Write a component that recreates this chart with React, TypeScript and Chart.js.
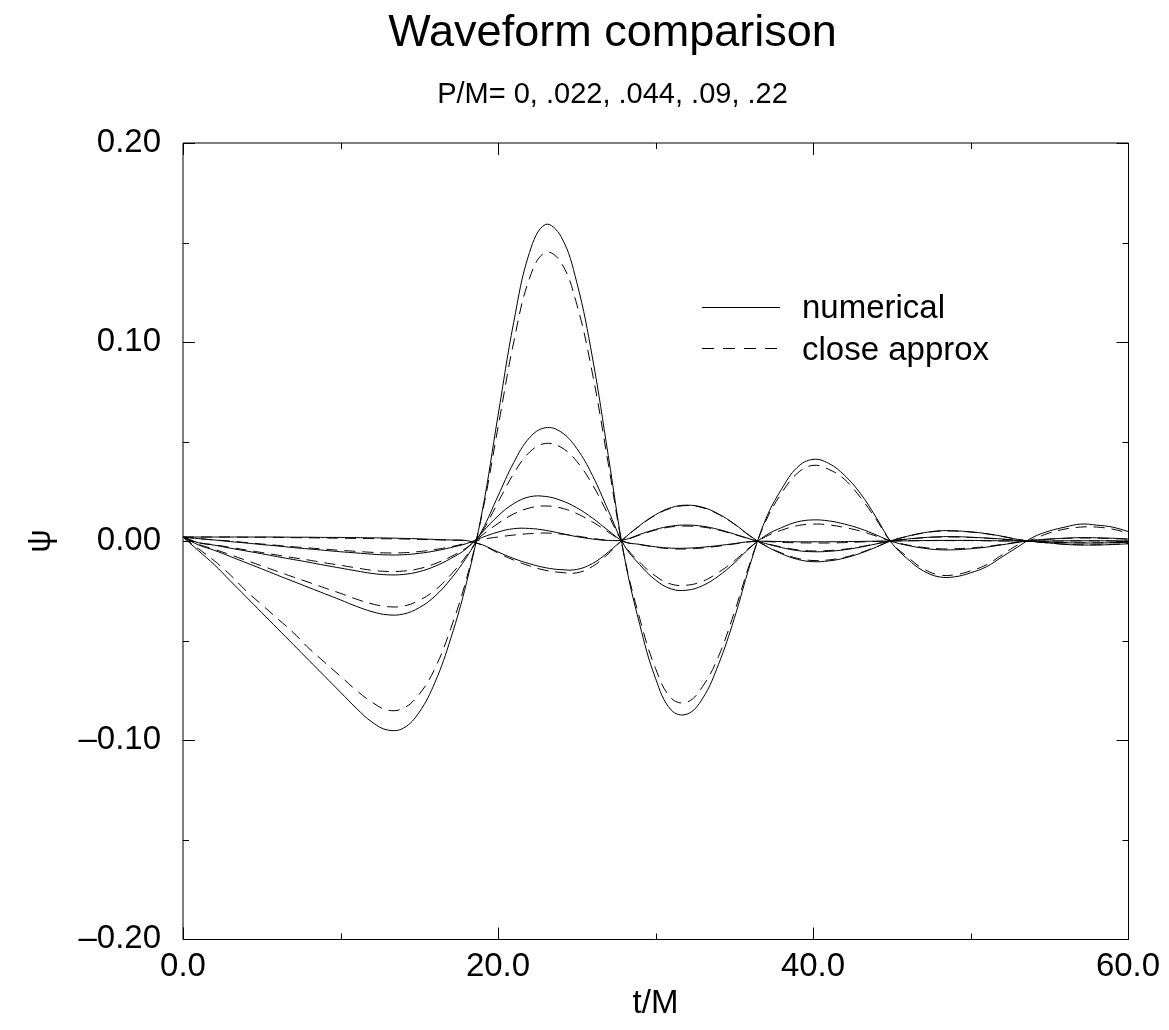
import React, { useEffect, useRef } from "react";
import { Chart, registerables } from "chart.js";

Chart.register(...registerables);

// ---------- data ----------
const chartTitle = "Waveform comparison";
const chartSubtitle = "P/M= 0, .022, .044, .09, .22";
const xAxisTitle = "t/M";
const yAxisTitle = "ψ";
const legendLabels = ["numerical", "close approx"];

const tValues = [
  0, 1, 2, 3, 4, 5, 6, 7, 8, 9, 10, 11, 12, 13, 14, 15, 16, 17, 18, 19, 20,
  21, 22, 23, 24, 25, 26, 27, 28, 29, 30, 31, 32, 33, 34, 35, 36, 37, 38, 39, 40,
  41, 42, 43, 44, 45, 46, 47, 48, 49, 50, 51, 52, 53, 54, 55, 56, 57, 58, 59, 60,
];

// P/M = .22
const numP22 = [
  0.002, -0.005, -0.012, -0.02, -0.028, -0.036, -0.044, -0.052, -0.06, -0.068, -0.076, -0.084, -0.091, -0.095, -0.094, -0.086, -0.071, -0.049, -0.021,
  0.015, 0.063, 0.11, 0.145, 0.159, 0.153, 0.13, 0.092, 0.043,
  -0.007, -0.042, -0.069, -0.085, -0.087, -0.079, -0.062, -0.039, -0.012,
  0.011, 0.026, 0.037, 0.041, 0.039, 0.033, 0.024, 0.012,
  -0.001, -0.009, -0.015, -0.018, -0.018, -0.016, -0.013, -0.008, -0.003,
  0.002, 0.005, 0.007, 0.0085, 0.008, 0.007, 0.0048,
];
const approxP22 = [
  0.002, -0.004, -0.01, -0.017, -0.025, -0.032, -0.039, -0.046, -0.054, -0.061, -0.068, -0.075, -0.081, -0.085, -0.084, -0.077, -0.064, -0.044, -0.019,
  0.014, 0.057, 0.1, 0.132, 0.145, 0.14, 0.119, 0.084, 0.039,
  -0.007, -0.039, -0.064, -0.079, -0.081, -0.073, -0.058, -0.036, -0.011,
  0.01, 0.024, 0.034, 0.038, 0.036, 0.031, 0.022, 0.011,
  -0.001, -0.008, -0.014, -0.017, -0.017, -0.015, -0.012, -0.007, -0.002,
  0.001, 0.004, 0.006, 0.007, 0.007, 0.006, 0.004,
];

// P/M = .09
const numP09 = [
  0.002, -0.002, -0.0047, -0.0078, -0.0109, -0.014, -0.0172, -0.0203, -0.0234, -0.0265, -0.0296, -0.0328, -0.0355, -0.0371, -0.0367, -0.0335, -0.0277, -0.0191, -0.0082,
  0.0054, 0.0226, 0.0394, 0.0519, 0.0569, 0.0548, 0.0465, 0.0329, 0.0154,
  -0.002, -0.0119, -0.0196, -0.0241, -0.0247, -0.0224, -0.0176, -0.0111, -0.0034,
  0.0028, 0.0067, 0.0096, 0.0106, 0.0101, 0.0085, 0.0062, 0.0031,
  -0.0002, -0.0022, -0.0036, -0.0044, -0.0044, -0.0039, -0.0031, -0.0019, -0.0007,
  0.0004, 0.001, 0.0014, 0.0017, 0.0016, 0.0014, 0.001,
];
const approxP09 = [
  0.002, -0.0017, -0.0042, -0.0069, -0.0097, -0.0125, -0.0153, -0.0181, -0.0208, -0.0236, -0.0263, -0.0292, -0.0316, -0.033, -0.0327, -0.0298, -0.0247, -0.017, -0.0073,
  0.0046, 0.0194, 0.0339, 0.0446, 0.049, 0.0471, 0.04, 0.0283, 0.0132,
  -0.0018, -0.0107, -0.0176, -0.0217, -0.0222, -0.0202, -0.0158, -0.01, -0.0031,
  0.0022, 0.0054, 0.0077, 0.0085, 0.0081, 0.0068, 0.005, 0.0025,
  -0.0002, -0.002, -0.0032, -0.0039, -0.0039, -0.0035, -0.0028, -0.0017, -0.0006,
  0.0003, 0.0009, 0.0013, 0.0015, 0.0014, 0.0012, 0.0009,
];

// P/M = .044
const numP044 = [
  0.002, -0.0009, -0.0021, -0.0036, -0.005, -0.0064, -0.0079, -0.0093, -0.0107, -0.0122, -0.0136, -0.015, -0.0163, -0.017, -0.0168, -0.0154, -0.0127, -0.0088, -0.0038,
  0.0044, 0.0126, 0.0188, 0.0222, 0.0224, 0.0204, 0.0167, 0.0115, 0.0053,
  -0.0003, -0.0017, -0.0029, -0.0036, -0.0036, -0.0031, -0.0023, -0.0013, -0.0003,
  -0.0001, -0.0003, -0.0004, -0.0004, -0.0004, -0.0003, -0.0002, -0.0001,
  0.0, 0.0001, 0.0002, 0.0003, 0.0003, 0.0003, 0.0002, 0.0001, 0.0,
  0.0, 0.0, 0.0001, 0.0001, 0.0001, 0.0001, 0.0,
];
const approxP044 = [
  0.002, -0.0008, -0.0019, -0.0032, -0.0045, -0.0058, -0.0071, -0.0084, -0.0096, -0.011, -0.0122, -0.0135, -0.0147, -0.0153, -0.0151, -0.0139, -0.0114, -0.0079, -0.0034,
  0.003, 0.0088, 0.0136, 0.0166, 0.0176, 0.0166, 0.0138, 0.0096, 0.0045,
  -0.0003, -0.0018, -0.0031, -0.0039, -0.004, -0.0035, -0.0026, -0.0015, -0.0004,
  -0.0003, -0.0007, -0.0009, -0.001, -0.001, -0.0008, -0.0005, -0.0002,
  0.0, 0.0001, 0.0002, 0.0002, 0.0002, 0.0002, 0.0001, 0.0, 0.0,
  0.0, 0.0, 0.0, 0.0001, 0.0001, 0.0, 0.0,
];

// P/M = .022
const numP022 = [
  0.002, 0.0012, 0.0005, -0.0003, -0.001, -0.0018, -0.0025, -0.0033, -0.004, -0.0047, -0.0054, -0.006, -0.0066, -0.007, -0.0069, -0.0062, -0.005, -0.0033, -0.0013,
  0.0018, 0.0045, 0.0062, 0.0063, 0.0054, 0.0038, 0.0022, 0.001, 0.0003,
  0.0006, 0.0033, 0.0058, 0.0075, 0.008, 0.0074, 0.0058, 0.0035, 0.001,
  -0.0013, -0.0033, -0.0048, -0.0054, -0.0052, -0.0044, -0.0031, -0.0015,
  0.0001, 0.001, 0.0017, 0.0021, 0.0022, 0.0019, 0.0015, 0.001, 0.0003,
  -0.0002, -0.0006, -0.0009, -0.001, -0.001, -0.0009, -0.0007,
];
const approxP022 = [
  0.002, 0.0012, 0.0005, 0.0, -0.0008, -0.0015, -0.0022, -0.0029, -0.0035, -0.0041, -0.0047, -0.0052, -0.0057, -0.006, -0.0059, -0.0053, -0.0043, -0.0029, -0.0011,
  0.0008, 0.002, 0.003, 0.0037, 0.004, 0.0035, 0.0025, 0.0013, 0.0004,
  0.0005, 0.003, 0.0055, 0.0071, 0.0075, 0.007, 0.0055, 0.0033, 0.001,
  -0.0012, -0.003, -0.0044, -0.005, -0.0048, -0.0041, -0.0029, -0.0014,
  0.0001, 0.0009, 0.0016, 0.002, 0.002, 0.0018, 0.0014, 0.0009, 0.0003,
  -0.0002, -0.0005, -0.0008, -0.0009, -0.0009, -0.0008, -0.0006,
];

// P/M = 0
const numP0 = [
  0.002, 0.002, 0.002, 0.002, 0.002, 0.002, 0.002, 0.0019, 0.0019, 0.0018, 0.0018, 0.0017, 0.0016, 0.0015, 0.0013, 0.0011, 0.0008, 0.0005, 0.0002,
  -0.0019, -0.0055, -0.0088, -0.0114, -0.0134, -0.0144, -0.0143, -0.0113, -0.0056,
  0.0013, 0.0078, 0.0132, 0.0168, 0.018, 0.0169, 0.0136, 0.0086, 0.0026,
  -0.0025, -0.0064, -0.0092, -0.0104, -0.01, -0.0086, -0.0062, -0.0031,
  0.0002, 0.0024, 0.0041, 0.0051, 0.0051, 0.0046, 0.0037, 0.0024, 0.0008,
  -0.0003, -0.001, -0.0017, -0.002, -0.002, -0.0018, -0.0014,
];
const approxP0 = [
  0.002, 0.002, 0.002, 0.002, 0.0019, 0.0019, 0.0018, 0.0017, 0.0016, 0.0015, 0.0014, 0.0013, 0.0012, 0.0011, 0.001, 0.0008, 0.0006, 0.0004, 0.0001,
  -0.0021, -0.006, -0.0096, -0.0125, -0.0147, -0.0158, -0.016, -0.0128, -0.0064,
  0.0012, 0.0076, 0.013, 0.0165, 0.0178, 0.0167, 0.0134, 0.0085, 0.0025,
  -0.0024, -0.006, -0.0087, -0.0098, -0.0095, -0.0082, -0.0059, -0.003,
  0.0002, 0.0023, 0.004, 0.0049, 0.005, 0.0045, 0.0036, 0.0023, 0.0008,
  -0.0003, -0.001, -0.0016, -0.0019, -0.0019, -0.0017, -0.0013,
];

const seriesNames = ["P/M=0", "P/M=.022", "P/M=.044", "P/M=.09", "P/M=.22"];
const numericalSeries = [numP0, numP022, numP044, numP09, numP22];
const approxSeries = [approxP0, approxP022, approxP044, approxP09, approxP22];

const xMajorTicks = [0, 20, 40, 60];
const xTickLabels = ["0.0", "20.0", "40.0", "60.0"];
const xMinorTicks = [10, 30, 50];
const yMajorTicks = [-0.2, -0.1, 0, 0.1, 0.2];
const yTickLabels = ["–0.20", "–0.10", "0.00", "0.10", "0.20"];
const yMinorTicks = [-0.15, -0.05, 0.05, 0.15];

// ---------- styling ----------
const FONT = "'Liberation Sans', Arial, Helvetica, sans-serif";
const W = 1169;
const H = 1030;
const DASH = [11, 7];

const framePlugin = {
  id: "frameTicksLegend",
  afterDatasetsDraw(chart: any) {
    const { ctx, chartArea: a, scales } = chart;
    const xs = scales.x;
    const ys = scales.y;
    ctx.save();
    ctx.strokeStyle = "#000";
    ctx.lineWidth = 1;
    ctx.setLineDash([]);
    // frame
    ctx.beginPath();
    ctx.moveTo(a.left, a.top);
    ctx.lineTo(a.right + 0.5, a.top);
    ctx.moveTo(a.right + 0.5, a.top);
    ctx.lineTo(a.right + 0.5, a.bottom + 0.5);
    ctx.moveTo(a.left, a.bottom + 0.5);
    ctx.lineTo(a.right + 0.5, a.bottom + 0.5);
    ctx.moveTo(a.left, a.top);
    ctx.lineTo(a.left, a.bottom + 0.5);
    ctx.stroke();
    // ticks (inward, on all four sides)
    const tickX = (v: number, len: number) => {
      const px = Math.round(xs.getPixelForValue(v)) + 0.5;
      ctx.moveTo(px, a.bottom + 0.5);
      ctx.lineTo(px, a.bottom + 0.5 - len);
      ctx.moveTo(px, a.top);
      ctx.lineTo(px, a.top + len);
    };
    const tickY = (v: number, len: number) => {
      const py = Math.round(ys.getPixelForValue(v)) + 0.5;
      ctx.moveTo(a.left, py);
      ctx.lineTo(a.left + len, py);
      ctx.moveTo(a.right + 0.5, py);
      ctx.lineTo(a.right + 0.5 - len, py);
    };
    ctx.beginPath();
    xMajorTicks.forEach((v) => tickX(v, 12));
    xMinorTicks.forEach((v) => tickX(v, 6));
    yMajorTicks.forEach((v) => tickY(v, 12));
    yMinorTicks.forEach((v) => tickY(v, 6));
    ctx.stroke();

    // legend
    const lx0 = a.left + 519;
    const lx1 = a.left + 597;
    const tx = a.left + 619;
    const rows = [
      { y: a.top + 164, base: a.top + 175, dash: [] as number[] },
      { y: a.top + 205, base: a.top + 217, dash: [12, 9] },
    ];
    ctx.font = `33px ${FONT}`;
    ctx.fillStyle = "#000";
    ctx.textAlign = "left";
    ctx.textBaseline = "alphabetic";
    rows.forEach((r, i) => {
      ctx.beginPath();
      ctx.setLineDash(r.dash);
      ctx.moveTo(lx0, r.y + 0.5);
      ctx.lineTo(lx1, r.y + 0.5);
      ctx.stroke();
      ctx.fillText(legendLabels[i], tx, r.base);
    });
    ctx.restore();
  },
};

export default function App() {
  const canvasRef = useRef<HTMLCanvasElement | null>(null);

  useEffect(() => {
    const canvas = canvasRef.current;
    if (!canvas) return;
    Chart.defaults.font.family = FONT;
    Chart.defaults.color = "#000";

    const datasets: any[] = [];
    seriesNames.forEach((name, k) => {
      datasets.push({
        label: `${legendLabels[0]} ${name}`,
        data: tValues.map((t, i) => ({ x: t, y: numericalSeries[k][i] })),
        borderColor: "#000",
        borderWidth: 1,
        pointRadius: 0,
        fill: false,
        tension: 0.4,
      });
      datasets.push({
        label: `${legendLabels[1]} ${name}`,
        data: tValues.map((t, i) => ({ x: t, y: approxSeries[k][i] })),
        borderColor: "#000",
        borderWidth: 1,
        borderDash: DASH,
        pointRadius: 0,
        fill: false,
        tension: 0.4,
      });
    });

    const chart = new Chart(canvas, {
      type: "line",
      data: { datasets },
      plugins: [framePlugin],
      options: {
        animation: false,
        responsive: false,
        devicePixelRatio: 1,
        events: [],
        layout: { padding: { left: 97, right: 41, top: 0, bottom: 0 } },
        plugins: {
          legend: { display: false },
          tooltip: { enabled: false },
          title: {
            display: true,
            text: chartTitle,
            color: "#000",
            font: { size: 45, weight: "normal", family: FONT, lineHeight: 1.2 },
            padding: { top: 7, bottom: 15 },
          },
          subtitle: {
            display: true,
            text: chartSubtitle,
            color: "#000",
            font: { size: 29, weight: "normal", family: FONT, lineHeight: 1.2 },
            padding: { top: 1.4, bottom: 30.8 },
          },
        },
        scales: {
          x: {
            type: "linear",
            min: 0,
            max: 60,
            grid: { display: false, drawTicks: false },
            border: { display: false },
            afterBuildTicks: (scale: any) => {
              scale.ticks = xMajorTicks.map((v) => ({ value: v }));
            },
            afterFit: (scale: any) => {
              scale.height = 91;
              scale._computeLabelArea = () => undefined;
            },
            ticks: {
              autoSkip: false,
              maxRotation: 0,
              padding: 8,
              color: "#000",
              font: { size: 33, family: FONT },
              callback: (value: any) => {
                const idx = xMajorTicks.indexOf(Number(value));
                return idx >= 0 ? xTickLabels[idx] : "";
              },
            },
            title: {
              display: true,
              text: xAxisTitle,
              color: "#000",
              font: { size: 33, family: FONT, lineHeight: 1.2 },
              padding: { top: 0, bottom: 6 },
            },
          },
          y: {
            type: "linear",
            min: -0.2,
            max: 0.2,
            grid: { display: false, drawTicks: false },
            border: { display: false },
            afterBuildTicks: (scale: any) => {
              scale.ticks = yMajorTicks.map((v) => ({ value: v }));
            },
            afterFit: (scale: any) => {
              scale.width = 86;
              // let the wide "–0.20" labels extend past the axis box without clipping
              scale._computeLabelArea = () => undefined;
            },
            ticks: {
              autoSkip: false,
              padding: 22,
              color: "#000",
              font: { size: 33, family: FONT },
              callback: (value: any) => {
                const idx = yMajorTicks.findIndex((v) => Math.abs(v - Number(value)) < 1e-9);
                return idx >= 0 ? yTickLabels[idx] : "";
              },
            },
            title: {
              display: true,
              text: yAxisTitle,
              color: "#000",
              font: { size: 33, family: FONT, lineHeight: 1.2 },
              padding: { top: -75.8, bottom: 0 },
            },
          },
        },
      } as any,
    });

    return () => {
      chart.destroy();
    };
  }, []);

  return (
    <div
      style={{
        position: "fixed",
        left: 0,
        top: 0,
        width: W,
        height: H,
        background: "#fff",
      }}
    >
      <canvas ref={canvasRef} width={W} height={H} style={{ display: "block", width: W, height: H }} />
    </div>
  );
}
